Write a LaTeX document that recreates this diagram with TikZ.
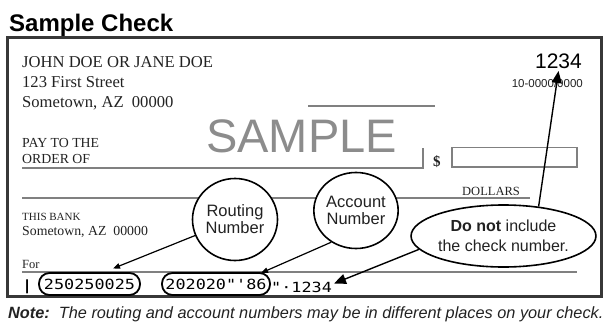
\documentclass[tikz,border=0pt]{standalone}
\usepackage{fontspec}
\setmainfont{Liberation Serif}
\setsansfont{Liberation Sans}
\newfontfamily\micr[FakeStretch=1.2]{DejaVu Sans Mono}
\usetikzlibrary{arrows.meta,shapes.geometric}
\definecolor{ink}{HTML}{222222}
\definecolor{rule}{HTML}{808080}
\definecolor{samp}{HTML}{8C8C8C}
\tikzset{
  fs/.style={font=\fontsize{#1}{#1}\selectfont},
  serif/.style={inner sep=0pt, anchor=base west, text=ink},
  grule/.style={draw=rule, line width=2.2pt},
  bubble/.style={draw=black, line width=1.6pt, fill=white, ellipse, inner sep=0pt, align=center, text=ink},
  micrbox/.style={draw=black, line width=1.8pt, rounded corners=10.5pt, inner sep=0pt, font=\micr\fontsize{14}{14}\selectfont},
  smallarr/.style={draw=black, line width=1.2pt, -{Triangle[length=7pt,width=5.5pt]}},
  bigarr/.style={draw=black, line width=1.4pt, -{Triangle[length=12pt,width=10pt]}},
}
\begin{document}
\begin{tikzpicture}[x=1pt,y=-1pt]
\useasboundingbox (0,0) rectangle (613,324);
% title
\node[inner sep=0pt, anchor=base west, font=\sffamily\bfseries\fontsize{24}{24}\selectfont] (title) at (9,31) {Sample Check};
% check border
\draw[draw=ink!90!white, line width=2.6pt] (7.5,37.5) rectangle (601.5,296.5);
% header text
\node[serif, fs=16.6] (name) at (22,67) {JOHN DOE OR JANE DOE};
\node[serif, fs=16.6] (street) at (22,87) {123 First Street};
\node[serif, fs=16.6] (town) at (22,107) {Sometown, AZ\ \ 00000};
\node[serif, fs=13.8] (pay) at (22,147) {PAY TO THE};
\node[serif, fs=13.8] (order) at (22,163) {ORDER OF};
% check number
\node[inner sep=0pt, anchor=base east, text=black, font=\sffamily\fontsize{21}{21}\selectfont] (num) at (582,68) {1234};
\node[inner sep=0pt, anchor=base east, text=ink, font=\sffamily\fontsize{11.5}{11.5}\selectfont] (fract) at (583,87) {10-0000/0000};
% SAMPLE
\draw[grule, line width=2.6pt] (308,106) -- (435,106);
\node[inner sep=0pt, anchor=base west, text=samp, font=\sffamily\fontsize{47}{47}\selectfont] (sample) at (206,152) {SAMPLE};
% pay line
\draw[grule] (22,168) -- (423,168) -- (423,148);
\node[serif, font=\bfseries\fontsize{15}{15}\selectfont] (dollar) at (433,166) {\$};
\draw[draw=rule, line width=1.6pt] (452,147.5) rectangle (577,167);
% dollars line
\draw[grule] (22,198) -- (530,198);
\node[serif, fs=12.5] (dollars) at (462,195.5) {DOLLARS};
% bank
\node[serif, fs=11] (bank) at (22,220) {THIS BANK};
\node[serif, fs=13.8] (btown) at (22,235) {Sometown, AZ\ \ 00000};
\node[serif, fs=12.5] (for) at (22,268) {For};
\draw[grule] (22,272) -- (577,272);
% MICR
\node[inner sep=0pt, anchor=base west, font=\micr\bfseries\fontsize{14}{14}\selectfont] (bar) at (22,290) {|};
\node[micrbox, minimum width=101pt, minimum height=22pt] (routbox) at (89.5,284) {250250025};
\node[micrbox, minimum width=108pt, minimum height=22pt] (accbox) at (216,284) {202020"'86};
\node[inner sep=0pt, anchor=base west, font=\micr\fontsize{14}{14}\selectfont] (chk) at (271,292) {"·1234};
% bubbles
\node[bubble, minimum width=85pt, minimum height=82pt, font=\sffamily\fontsize{16.5}{17}\selectfont] (rout) at (235,219.5) {Routing\\Number};
\node[bubble, minimum width=84pt, minimum height=76pt, font=\sffamily\fontsize{16.5}{17}\selectfont] (acc) at (356,210.5) {Account\\Number};
\node[bubble, minimum width=182pt, minimum height=62pt, font=\sffamily\fontsize{16}{20}\selectfont] (dont) at (503.5,236) {\textbf{Do not} include\\the check number.};
% arrow tips
\coordinate (rtip) at (113,268.5);
\coordinate (atip) at (261,273);
\coordinate (dtip) at (334,283.5);
\coordinate (ctip) at (558.5,71);
\draw[smallarr] (rout) -- (rtip);
\draw[smallarr] (acc.232) -- (atip);
\draw[bigarr] (dont.189) -- (dtip);
\draw[bigarr] (dont.40) -- (ctip);
% note
\node[inner sep=0pt, anchor=base west, text=ink, font=\sffamily\itshape\fontsize{16.3}{16.3}\selectfont] (note) at (8,318) {\textbf{Note:}\ \ The routing and account numbers may be in different places on your check.};
\end{tikzpicture}
\end{document}
